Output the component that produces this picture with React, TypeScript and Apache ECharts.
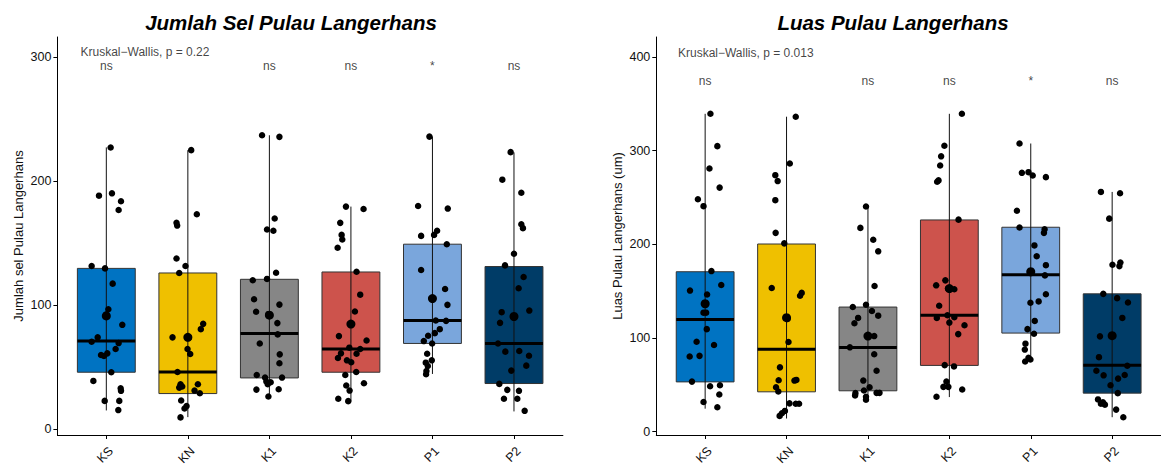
import React, { useEffect, useRef } from "react";
import * as echarts from "echarts";

const CATEGORIES = ["KS", "KN", "K1", "K2", "P1", "P2"];
const COLORS = ["#0073C2", "#EFC000", "#868686", "#CD534C", "#7AA6DC", "#003C67"];
const Y_TICKS_SEL = [0, 100, 200, 300];
const Y_TICKS_LUAS = [0, 100, 200, 300, 400];
const X_TICKS = [1, 2, 3, 4, 5, 6];

// Panel 1: Jumlah sel Pulau Langerhans
const SEL_Q1 = [45.8, 28.6, 41.2, 45.8, 69.0, 36.7];
const SEL_MEDIAN = [70.9, 46.0, 77.0, 64.5, 87.5, 69.0];
const SEL_Q3 = [129.5, 125.8, 120.7, 126.6, 149.0, 131.0];
const SEL_LOW = [15.0, 9.6, 26.0, 22.2, 44.4, 14.2];
const SEL_HIGH = [227.0, 224.8, 236.8, 179.3, 235.7, 223.0];
const SEL_MEAN = [91.2, 73.9, 91.8, 84.6, 105.2, 90.7];
const SEL_SIG = ["ns", "", "ns", "ns", "*", "ns"];

const SEL_KS_PTS = [[1.053,226.9],[0.910,188.1],[1.069,190.0],[1.180,183.6],[1.151,176.6],[0.820,131.4],[0.984,129.5],[1.078,117.2],[1.025,96.6],[0.996,92.3],[1.196,84.0],[0.894,73.9],[0.820,70.4],[1.151,69.3],[1.114,64.5],[1.012,61.0],[0.935,59.7],[0.971,58.9],[1.061,45.8],[0.841,38.8],[1.176,32.9],[1.180,30.8],[0.980,22.7],[1.159,22.7],[1.147,15.3]];
const SEL_KN_PTS = [[2.041,224.8],[2.110,173.1],[1.861,166.2],[1.869,164.0],[1.861,137.5],[1.971,131.4],[1.894,125.8],[2.188,84.8],[2.159,80.5],[1.812,73.9],[2.012,73.6],[1.996,64.5],[2.029,60.5],[1.873,46.0],[1.910,36.1],[1.931,34.3],[1.894,33.4],[2.123,36.1],[2.082,31.0],[2.147,28.9],[1.918,23.0],[1.984,18.5],[1.959,16.6],[1.910,9.4]];
const SEL_K1_PTS = [[2.910,236.8],[3.123,235.5],[3.065,169.7],[2.971,160.8],[3.049,159.8],[3.082,126.0],[2.796,119.9],[2.971,121.0],[2.812,104.6],[3.123,100.3],[2.837,94.5],[2.988,92.6],[3.098,85.4],[3.102,76.3],[2.882,69.0],[3.127,60.2],[3.123,53.0],[2.845,43.6],[2.947,41.5],[3.155,41.5],[2.963,38.3],[3.016,37.7],[2.980,36.1],[2.841,31.8],[3.114,32.1],[2.988,26.2]];
const SEL_K2_PTS = [[3.939,179.3],[4.155,177.4],[3.869,166.2],[3.886,156.5],[3.894,152.8],[3.837,146.1],[4.069,126.8],[4.114,108.3],[4.049,94.7],[3.853,74.9],[4.192,71.4],[3.980,65.6],[4.114,64.5],[3.878,61.0],[3.841,57.3],[4.069,60.7],[3.951,55.4],[4.004,53.8],[4.065,46.0],[3.931,43.6],[4.160,36.9],[3.943,35.1],[3.984,31.0],[3.845,24.4],[3.967,22.5]];
const SEL_P1_PTS = [[4.963,235.7],[4.824,179.8],[5.188,177.7],[5.057,159.8],[5.020,156.5],[4.861,155.7],[5.176,149.0],[4.861,128.2],[5.155,112.9],[5.004,105.2],[5.184,100.1],[5.041,87.5],[5.167,87.2],[5.090,80.5],[5.029,77.3],[4.947,75.2],[4.894,70.9],[4.996,69.0],[4.935,60.7],[4.992,55.4],[4.918,53.5],[4.943,50.8],[4.926,46.8],[4.922,44.2]];
const SEL_P2_PTS = [[5.959,223.2],[5.857,201.0],[6.090,190.5],[6.090,165.1],[6.110,161.9],[6.000,141.3],[5.890,131.9],[6.118,122.6],[6.057,113.5],[6.188,95.5],[5.849,94.2],[5.829,85.6],[5.804,69.0],[5.894,62.4],[6.065,62.9],[6.184,59.1],[6.151,51.1],[5.967,47.1],[5.820,36.4],[5.918,31.6],[6.061,30.8],[5.877,24.4],[6.041,24.4],[6.131,14.7]];

// Panel 2: Luas Pulau Langerhans
const LUAS_Q1 = [53.2, 42.6, 43.7, 70.8, 105.3, 41.2];
const LUAS_MEDIAN = [119.7, 88.0, 89.8, 124.3, 167.6, 71.1];
const LUAS_Q3 = [170.8, 200.4, 133.1, 226.1, 218.3, 147.2];
const LUAS_LOW = [24.6, 14.1, 34.5, 37.0, 75.0, 15.5];
const LUAS_HIGH = [339.4, 336.3, 241.9, 339.4, 307.7, 256.0];
const LUAS_MEAN = [136.6, 121.8, 102.1, 152.8, 170.8, 102.5];
const LUAS_SIG = ["ns", "", "ns", "ns", "*", "ns"];

const LUAS_KS_PTS = [[1.065,339.4],[1.150,304.9],[1.053,281.0],[1.178,260.6],[0.911,248.2],[0.980,240.8],[1.077,171.5],[1.198,156.7],[0.814,150.7],[1.024,146.5],[0.980,127.1],[1.012,127.1],[1.020,109.5],[0.895,96.1],[1.109,92.6],[0.931,81.0],[0.810,80.3],[0.838,53.5],[1.061,48.6],[1.182,49.6],[1.174,39.8],[0.980,31.7],[1.150,26.1]];
const LUAS_KN_PTS = [[2.113,336.3],[2.040,286.3],[1.862,273.9],[1.891,267.6],[1.862,247.2],[1.866,212.3],[1.972,201.1],[1.818,153.5],[2.186,148.2],[2.166,145.1],[2.012,120.4],[2.024,95.8],[1.919,68.7],[1.903,54.9],[2.121,55.3],[2.097,54.6],[1.871,47.5],[1.899,43.0],[2.036,30.3],[2.113,29.9],[2.154,29.9],[1.980,22.2],[1.943,19.7],[1.915,16.9]];
const LUAS_K1_PTS = [[2.976,240.5],[2.907,217.6],[3.065,204.9],[3.126,192.6],[3.081,155.6],[2.814,133.1],[2.976,135.6],[2.879,121.5],[3.126,123.9],[3.049,128.9],[2.834,115.8],[3.077,102.1],[2.778,90.1],[3.077,82.7],[3.106,65.1],[2.943,54.6],[3.020,47.5],[2.951,44.0],[2.846,41.2],[2.842,38.7],[3.106,41.5],[3.142,41.5],[2.976,37.3],[2.976,34.2]];
const LUAS_K2_PTS = [[4.154,339.4],[3.939,305.3],[3.899,294.0],[3.887,284.2],[3.850,266.9],[3.867,268.3],[4.113,226.4],[3.951,161.6],[3.838,156.3],[3.984,152.8],[4.061,152.1],[3.875,134.5],[3.976,124.3],[3.846,121.5],[4.061,122.2],[4.000,116.5],[4.186,113.7],[4.109,104.2],[3.943,71.1],[4.057,69.7],[3.964,53.5],[3.927,47.9],[3.988,47.9],[4.158,45.1],[3.842,37.3]];
const LUAS_P1_PTS = [[4.862,307.7],[4.891,276.4],[4.972,277.1],[5.024,273.6],[5.186,271.8],[4.830,235.9],[4.862,218.0],[5.170,216.2],[5.162,212.3],[5.045,198.9],[5.073,187.3],[5.186,177.8],[5.174,166.9],[5.186,146.8],[4.996,137.7],[5.097,139.1],[5.049,118.3],[4.960,109.5],[5.040,104.6],[4.935,94.0],[4.927,87.7],[4.972,78.9],[4.996,77.1],[4.931,75.0]];
const LUAS_P2_PTS = [[5.862,256.0],[6.097,254.6],[5.964,227.5],[6.004,178.2],[6.101,180.6],[6.089,176.8],[5.891,147.2],[6.061,142.6],[6.194,138.0],[6.125,121.5],[5.850,101.8],[5.838,79.6],[6.186,70.4],[5.806,65.1],[5.895,60.2],[6.154,60.6],[6.073,56.7],[5.980,49.6],[6.069,41.2],[5.826,34.5],[5.887,31.3],[5.911,28.9],[5.862,29.9],[6.049,23.6],[6.137,15.5]];

const FONT = "Liberation Sans";
const BOX_HALF = 0.355;
const TEXT_COLOR = "#111";

function boxData(q1: number[], med: number[], q3: number[], lo: number[], hi: number[]) {
  return CATEGORIES.map((_, i) => [i + 1, q1[i], med[i], q3[i], lo[i], hi[i]]);
}

function boxSeries(idx: number, data: number[][]) {
  return {
    type: "custom",
    xAxisIndex: idx,
    yAxisIndex: idx,
    data,
    encode: { x: 0, y: [1, 2, 3, 4, 5] },
    z: 2,
    renderItem: (params: any, api: any) => {
      const x = api.value(0);
      const q1 = api.value(1);
      const med = api.value(2);
      const q3 = api.value(3);
      const lo = api.value(4);
      const hi = api.value(5);
      const tl = api.coord([x - BOX_HALF, q3]);
      const br = api.coord([x + BOX_HALF, q1]);
      const mL = api.coord([x - BOX_HALF, med]);
      const mR = api.coord([x + BOX_HALF, med]);
      const wT = api.coord([x, hi]);
      const wB = api.coord([x, lo]);
      return {
        type: "group",
        children: [
          {
            type: "rect",
            shape: { x: tl[0], y: tl[1], width: br[0] - tl[0], height: br[1] - tl[1] },
            style: { fill: COLORS[params.dataIndex], stroke: "#333", lineWidth: 1 },
          },
          {
            type: "line",
            shape: { x1: wT[0], y1: wT[1], x2: wB[0], y2: wB[1] },
            style: { stroke: "#111", lineWidth: 1 },
          },
          {
            type: "line",
            shape: { x1: mL[0], y1: mL[1], x2: mR[0], y2: mR[1] },
            style: { stroke: "#000", lineWidth: 3 },
          },
        ],
      };
    },
  };
}

function xAxis(idx: number) {
  return {
    gridIndex: idx,
    type: "value",
    min: 0.4,
    max: 6.6,
    axisLine: { show: true, onZero: false, lineStyle: { color: "#000", width: 1 } },
    axisTick: { show: true, customValues: X_TICKS, length: 4, lineStyle: { color: "#000" } },
    axisLabel: {
      customValues: X_TICKS.map((v) => v + 0.058),
      formatter: (v: number) => CATEGORIES[Math.round(v) - 1],
      rotate: 45,
      margin: 14,
      fontSize: 12.5,
      color: TEXT_COLOR,
      fontFamily: FONT,
    },
    splitLine: { show: false },
  };
}

function yAxis(idx: number, min: number, max: number, ticks: number[], name: string) {
  return {
    gridIndex: idx,
    type: "value",
    min,
    max,
    axisLine: { show: true, onZero: false, lineStyle: { color: "#000", width: 1 } },
    axisTick: { show: true, customValues: ticks, length: 4, lineStyle: { color: "#000" } },
    axisLabel: { customValues: ticks, margin: 6, fontSize: 12.5, color: TEXT_COLOR, fontFamily: FONT },
    splitLine: { show: false },
    name,
    nameLocation: "middle",
    nameGap: 32,
    nameTextStyle: { fontSize: 13, color: TEXT_COLOR, fontFamily: FONT },
  };
}

function pointSeries(idx: number, pts: number[][]) {
  return {
    type: "scatter",
    xAxisIndex: idx,
    yAxisIndex: idx,
    data: pts,
    symbolSize: 6.5,
    itemStyle: { color: "#000", opacity: 1 },
    z: 3,
  };
}

function meanSeries(idx: number, means: number[]) {
  return {
    type: "scatter",
    xAxisIndex: idx,
    yAxisIndex: idx,
    data: means.map((m, i) => [i + 1, m]),
    symbolSize: 9,
    itemStyle: { color: "#000", opacity: 1 },
    z: 4,
  };
}

function textLabel(position: string) {
  return {
    show: true,
    position,
    distance: 0,
    formatter: (p: any) => p.value[2],
    fontSize: 12,
    color: TEXT_COLOR,
    textBorderWidth: 0,
    textBorderColor: "transparent",
    fontFamily: FONT,
  };
}

function sigSeries(idx: number, sig: string[], yv: number) {
  return {
    type: "scatter",
    xAxisIndex: idx,
    yAxisIndex: idx,
    data: sig.map((s, i) => [i + 1, yv, s]),
    symbolSize: 1,
    itemStyle: { color: "transparent" },
    label: { ...textLabel("inside"), align: "center", verticalAlign: "middle" },
    z: 5,
  };
}

function kwSeries(idx: number, x: number, yv: number, text: string) {
  return {
    type: "scatter",
    xAxisIndex: idx,
    yAxisIndex: idx,
    data: [[x, yv, text]],
    symbolSize: 1,
    itemStyle: { color: "transparent" },
    label: textLabel("right"),
    z: 5,
  };
}

export default function App() {
  const ref = useRef<HTMLDivElement>(null);
  useEffect(() => {
    if (!ref.current) return;
    const chart = echarts.init(ref.current, undefined, { renderer: "svg" });
    const selPts = [...SEL_KS_PTS, ...SEL_KN_PTS, ...SEL_K1_PTS, ...SEL_K2_PTS, ...SEL_P1_PTS, ...SEL_P2_PTS];
    const luasPts = [...LUAS_KS_PTS, ...LUAS_KN_PTS, ...LUAS_K1_PTS, ...LUAS_K2_PTS, ...LUAS_P1_PTS, ...LUAS_P2_PTS];
    chart.setOption({
      animation: false,
      backgroundColor: "#fff",
      grid: [
        { left: 57.4, top: 37, width: 505.5, height: 400 },
        { left: 656.3, top: 37, width: 510.9, height: 402 },
      ],
      xAxis: [xAxis(0), xAxis(1)],
      yAxis: [
        yAxis(0, -4.8, 316, Y_TICKS_SEL, "Jumlah sel Pulau Langerhans"),
        yAxis(1, -3.5, 421.4, Y_TICKS_LUAS, "Luas Pulau Langerhans (um)"),
      ],
      graphic: [
        {
          type: "text",
          x: 291,
          y: 22,
          style: {
            text: "Jumlah Sel Pulau Langerhans",
            fontSize: 20.5,
            fontWeight: "bold",
            fontStyle: "italic",
            fontFamily: FONT,
            fill: "#000",
            align: "center",
            verticalAlign: "middle",
          },
        },
        {
          type: "text",
          x: 893,
          y: 22,
          style: {
            text: "Luas Pulau Langerhans",
            fontSize: 20.5,
            fontWeight: "bold",
            fontStyle: "italic",
            fontFamily: FONT,
            fill: "#000",
            align: "center",
            verticalAlign: "middle",
          },
        },
      ],
      series: [
        boxSeries(0, boxData(SEL_Q1, SEL_MEDIAN, SEL_Q3, SEL_LOW, SEL_HIGH)),
        pointSeries(0, selPts),
        meanSeries(0, SEL_MEAN),
        sigSeries(0, SEL_SIG, 293),
        kwSeries(0, 0.677, 304, "Kruskal\u2212Wallis, p = 0.22"),
        boxSeries(1, boxData(LUAS_Q1, LUAS_MEDIAN, LUAS_Q3, LUAS_LOW, LUAS_HIGH)),
        pointSeries(1, luasPts),
        meanSeries(1, LUAS_MEAN),
        sigSeries(1, LUAS_SIG, 374),
        kwSeries(1, 0.66, 404.8, "Kruskal\u2212Wallis, p = 0.013"),
      ],
    });
    return () => chart.dispose();
  }, []);
  return (
    <div
      ref={ref}
      style={{ position: "absolute", left: 0, top: 0, width: 1161, height: 468 }}
    />
  );
}
